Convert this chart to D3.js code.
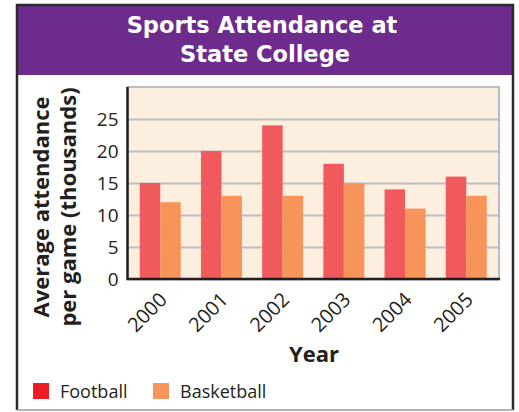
<!DOCTYPE html>
<html>
<head>
<meta charset="utf-8">
<script src="https://cdn.jsdelivr.net/npm/d3@7"></script>
<style>
	body{ margin:0; background:#fff; }
	text{ font-family:"Open Sans", "Noto Sans", sans-serif; fill:#231f20; }
</style>
</head>
<body>
<div id="chart"></div>
<script>
// data
var years = ["2000", "2001", "2002", "2003", "2004", "2005"];
var football = [15, 20, 24, 18, 14, 16];
var basketball = [12, 13, 13, 15, 11, 13];
var seriesNames = ["Football", "Basketball"];
var yTicks = [0, 5, 10, 15, 20, 25];

;(function(){
	var width = 519, height = 412;
	var svg = d3.select("#chart").append("svg")
		.attr("width", width)
		.attr("height", height);

	var colors = { Football: "#f15a5c", Basketball: "#f7945a" };
	var legendColors = { Football: "#ed1c24", Basketball: "#f7945a" };

	// frame + header
	svg.append("rect").attr("x", 17).attr("y", 5).attr("width", 496).attr("height", 70).attr("fill", "#6d2b8e");
	svg.append("path").attr("d", "M17,410 L17,5 L513,5 L513,410")
		.attr("fill", "none").attr("stroke", "#2b2b2b").attr("stroke-width", 2.5);
	svg.append("line").attr("x1", 17).attr("x2", 513).attr("y1", 410).attr("y2", 410)
		.attr("stroke", "#9a9a9a").attr("stroke-width", 1.5);

	// title, two lines (font with tighter line box so the lines don't collide)
	var titleLines = ["Sports Attendance at", "State College"];
	svg.append("g").selectAll("text").data(titleLines).join("text")
		.attr("x", function(d, i){ return i ? 265 : 262; })
		.attr("y", function(d, i){ return 33 + i * 29; })
		.attr("text-anchor", "middle")
		.attr("font-size", 22.5).attr("font-weight", "bold")
		.style("font-family", "'DejaVu Sans', sans-serif")
		.style("fill", "#fff")
		.text(function(d){ return d; });

	// plot
	var left = 127.5, right = 499, top = 87, bottom = 279;
	var x = d3.scaleBand().domain(years).range([left, right]).paddingInner(0.33).paddingOuter(0.2);
	var y = d3.scaleLinear().domain([0, 30]).range([bottom, top]);

	svg.append("rect").attr("x", left).attr("y", top).attr("width", right - left).attr("height", bottom - top)
		.attr("fill", "#fdefe0").attr("stroke", "#bdbdbd").attr("stroke-width", 2);

	var gy = svg.append("g").attr("transform", "translate(" + left + ",0)")
		.call(d3.axisLeft(y).tickValues(yTicks).tickSizeInner(-(right - left)).tickSizeOuter(0).tickPadding(9));
	gy.select(".domain").remove();
	gy.selectAll(".tick line").attr("stroke", "#bdbdbd").attr("stroke-width", 2);
	gy.selectAll(".tick text").attr("font-size", 19).attr("font-family", null).style("fill", "#231f20");

	var sub = d3.scaleBand().domain(seriesNames).range([0, x.bandwidth()]);
	var rows = years.map(function(yr, i){
		return { year: yr, values: [
			{ name: "Football", value: football[i] },
			{ name: "Basketball", value: basketball[i] }
		]};
	});
	svg.append("g").selectAll("g").data(rows).join("g")
		.attr("transform", function(d){ return "translate(" + x(d.year) + ",0)"; })
		.selectAll("rect").data(function(d){ return d.values; }).join("rect")
		.attr("x", function(d){ return sub(d.name); })
		.attr("width", sub.bandwidth())
		.attr("y", function(d){ return y(d.value); })
		.attr("height", function(d){ return y(0) - y(d.value); })
		.attr("fill", function(d){ return colors[d.name]; });

	// axis lines
	svg.append("path").attr("d", "M" + left + "," + top + " L" + left + "," + bottom + " L" + (right + 1) + "," + bottom)
		.attr("fill", "none").attr("stroke", "#231f20").attr("stroke-width", 2.5);

	var gx = svg.append("g").attr("transform", "translate(0," + bottom + ")")
		.call(d3.axisBottom(x).tickSize(0).tickPadding(0));
	gx.select(".domain").remove();
	gx.selectAll(".tick text")
		.attr("font-size", 20).attr("font-family", null)
		.attr("text-anchor", "end")
		.attr("dy", null).attr("y", null)
		.attr("transform", "translate(8,22) rotate(-45)")
		.style("fill", "#231f20");

	svg.append("text").attr("x", 314).attr("y", 362).attr("text-anchor", "middle")
		.attr("font-size", 22).attr("font-weight", "bold").text("Year");

	var yt = svg.append("text").attr("transform", "translate(0,207) rotate(-90)")
		.attr("text-anchor", "middle").attr("font-size", 22).attr("font-weight", "bold");
	yt.append("tspan").attr("x", 0).attr("y", 49).text("Average attendance");
	yt.append("tspan").attr("x", 0).attr("y", 76).text("per game (thousands)");

	// legend
	var lx = [33, 153];
	var lg = svg.append("g").selectAll("g").data(seriesNames).join("g")
		.attr("transform", function(d, i){ return "translate(" + lx[i] + ",383)"; });
	lg.append("rect").attr("width", 16).attr("height", 16).attr("fill", function(d){ return legendColors[d]; });
	lg.append("text").attr("x", 27).attr("y", 15).attr("font-size", 18).text(function(d){ return d; });
})();
</script>
</body>
</html>
